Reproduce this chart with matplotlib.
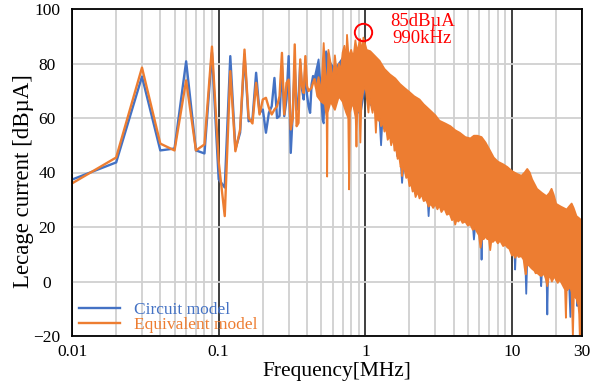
import matplotlib
matplotlib.use("Agg")
import matplotlib.pyplot as plt
from matplotlib.ticker import FixedLocator, NullFormatter

plt.rcParams['font.family'] = ['Liberation Serif', 'DejaVu Serif']

BLUE = '#4472C4'
ORANGE = '#ED7D31'

# ---- low-frequency part (individual 10 kHz samples) [MHz], [dBuA]
line_f = [0.01, 0.02, 0.03, 0.04, 0.05, 0.06, 0.07, 0.08, 0.09, 0.10,
          0.11, 0.12, 0.13, 0.14, 0.15, 0.16, 0.17, 0.18, 0.19, 0.20,
          0.21, 0.22, 0.23, 0.24, 0.25, 0.26, 0.27, 0.28, 0.29, 0.30,
          0.31, 0.32, 0.33, 0.34, 0.35, 0.36, 0.37, 0.38, 0.39, 0.40,
          0.41, 0.42, 0.43, 0.44, 0.45]
circuit_line = [37.4, 43.7, 75.2, 48.1, 48.8, 80.8, 48.1, 47.0, 84.0, 37.5,
                34.5, 82.7, 48.5, 54.6, 83.3, 58.8, 59.5, 76.6, 61.9, 63.1,
                54.6, 61.9, 64.3, 74.7, 60.0, 60.7, 79.0, 60.7, 66.8, 82.7,
                47.2, 62.0, 79.0, 63.0, 66.8, 80.2, 70.5, 66.8, 79.0, 68.6,
                64.3, 61.9, 72.3, 75.4, 74.7]
equiv_line = [36.0, 45.5, 78.5, 50.6, 48.1, 73.8, 48.1, 50.3, 86.2, 44.0,
              24.0, 77.2, 47.8, 55.8, 85.1, 60.1, 58.0, 72.9, 61.3, 66.8,
              67.4, 63.7, 61.3, 63.1, 64.3, 68.0, 83.9, 61.3, 72.9, 74.1,
              55.8, 60.0, 87.0, 57.0, 58.2, 81.5, 71.7, 69.2, 82.7, 71.7,
              69.9, 70.5, 71.1, 72.9, 74.1]

# ---- dense part: upper envelope and lower edge of the spectrum band
equiv_top_f = [0.45, 0.46, 0.48, 0.50, 0.52, 0.53, 0.55, 0.56, 0.58, 0.60,
               0.62, 0.64, 0.66, 0.68, 0.70, 0.72, 0.74, 0.75, 0.77, 0.80,
               0.83, 0.855, 0.88, 0.92, 0.95, 0.97, 1.02, 1.08, 1.15, 1.25,
               1.35, 1.47, 1.6, 1.72, 1.85, 2.0, 2.15, 2.34, 2.5, 2.74,
               3.0, 3.2, 3.5, 3.8, 4.1, 4.4, 4.8, 5.2, 5.5, 5.8,
               6.2, 6.6, 7.0, 7.5, 8.0, 8.7, 9.3, 10.0, 10.8, 11.6,
               12.2, 12.7, 13.2, 13.7, 14.8, 16.0, 17.2, 18.0, 18.6, 19.2,
               20.0, 21.5, 23.6, 24.5, 25.5, 26.3, 27.5, 29.0, 30.0]
equiv_top_v = [74.1, 71.0, 75.0, 69.0, 87.5, 79.0, 70.0, 85.0, 80.0, 73.0,
               83.0, 76.0, 80.0, 77.0, 84.0, 86.5, 80.0, 90.5, 82.0, 85.0,
               82.0, 88.5, 84.0, 89.0, 84.0, 89.5, 85.0, 84.5, 83.0, 81.0,
               78.0, 76.0, 74.5, 72.5, 71.0, 69.5, 68.0, 66.8, 65.0, 63.0,
               61.0, 59.0, 58.0, 57.0, 55.5, 54.6, 53.0, 52.5, 53.5, 53.5,
               53.0, 51.0, 48.5, 45.5, 44.0, 43.0, 42.0, 40.5, 39.5, 38.8,
               40.0, 41.3, 40.0, 37.5, 34.0, 32.5, 31.3, 32.5, 34.0, 32.0,
               28.5, 27.5, 26.4, 27.5, 28.6, 27.0, 24.0, 23.0, 22.0]
equiv_bot_f = [0.45, 0.47, 0.50, 0.53, 0.545, 0.549, 0.553, 0.58, 0.62, 0.66,
               0.70, 0.74, 0.765, 0.775, 0.785, 0.82, 0.86, 0.87, 0.88, 0.91,
               0.925, 0.94, 0.97, 1.0, 1.03, 1.05, 1.07, 1.10, 1.12, 1.14,
               1.16, 1.18, 1.20, 1.23, 1.25, 1.28, 1.31, 1.35, 1.38, 1.42,
               1.47, 1.50, 1.55, 1.58, 1.62, 1.66, 1.70, 1.74, 1.76, 1.78,
               1.80, 1.85, 1.90, 1.95, 2.0, 2.05, 2.1, 2.15, 2.2, 2.28,
               2.34, 2.42, 2.5, 2.6, 2.7, 2.8, 2.9, 3.0, 3.1, 3.2,
               3.3, 3.45, 3.6, 3.75, 3.9, 4.0, 4.1, 4.2, 4.3, 4.45,
               4.6, 4.8, 5.0, 5.2, 5.4, 5.6, 5.8, 5.95, 6.1, 6.25,
               6.4, 6.6, 6.8, 6.95, 7.1, 7.25, 7.4, 7.7, 8.0, 8.3,
               8.7, 9.0, 9.3, 9.6, 10.0, 10.3, 10.5, 10.8, 11.1, 11.6,
               12.0, 12.2, 12.4, 12.6, 13.0, 13.5, 13.8, 14.2, 14.5, 14.8,
               15.3, 15.8, 16.2, 16.5, 17.0, 17.4, 17.8, 18.2, 18.7, 19.1,
               19.5, 20.0, 20.5, 21.0, 21.5, 22.0, 22.5, 23.0, 23.3, 23.6,
               24.0, 24.5, 25.0, 25.5, 26.0, 26.4, 26.8, 27.2, 27.5, 28.0,
               28.3, 28.7, 29.0, 29.3, 29.6, 30.0]
equiv_bot_v = [74.1, 68.0, 66.0, 65.0, 60.0, 38.5, 62.0, 66.0, 63.0, 68.0,
               66.0, 62.0, 60.0, 33.8, 62.0, 66.0, 60.0, 49.5, 62.0, 64.0,
               51.0, 66.0, 70.0, 72.0, 66.0, 62.0, 68.0, 64.0, 61.9, 65.0,
               63.0, 54.6, 62.0, 59.0, 61.0, 57.0, 59.0, 55.0, 57.0, 52.0,
               53.5, 50.0, 53.0, 48.0, 49.0, 45.0, 46.0, 42.0, 43.0, 38.7,
               42.0, 41.0, 38.0, 39.0, 35.0, 36.0, 33.0, 34.0, 31.0, 33.0,
               30.5, 32.0, 29.5, 30.0, 27.5, 28.5, 27.0, 28.5, 26.5, 28.0,
               25.5, 27.0, 24.5, 25.0, 22.5, 23.5, 20.9, 23.0, 22.0, 23.0,
               21.5, 22.0, 20.5, 21.0, 19.0, 19.5, 18.0, 17.0, 12.4, 16.0,
               15.5, 16.5, 15.5, 16.0, 11.5, 15.5, 14.5, 15.5, 14.0, 15.0,
               13.0, 13.5, 12.5, 12.0, 9.5, 10.0, 8.7, 10.0, 9.0, 9.3,
               8.0, 5.0, 2.6, 6.0, 6.0, 5.0, 4.5, 4.0, 3.0, 3.2,
               2.5, 2.0, 2.5, 3.0, 1.0, -1.7, 1.5, 2.0, 0.0, 1.0,
               2.0, 0.5, -0.5, 0.5, 0.0, -1.0, -2.0, -3.0, -13.3, -3.0,
               -3.0, -2.5, -2.0, -4.0, -20.5, -5.0, -5.0, -6.0, -6.0, -8.0,
               -8.0, -12.0, -20.5, -8.0, -7.0, -20.0]

circuit_top_f = [0.45, 0.48, 0.50, 0.54, 0.58, 0.62, 0.66, 0.70, 0.75, 0.80,
                 0.85, 0.90, 0.95, 1.0, 1.1, 1.25, 1.47, 1.72, 2.0, 2.34,
                 2.74, 3.2, 3.8, 4.4, 5.2, 6.0, 7.0, 8.0, 10.0, 12.7,
                 14.8, 17.2, 20.0, 23.6, 25.5, 27.5, 30.0]
circuit_top_v = [74.7, 81.5, 70.0, 84.5, 80.0, 78.0, 80.0, 82.0, 84.0, 82.0,
                 84.0, 85.0, 83.0, 84.0, 81.5, 78.5, 73.5, 70.0, 67.0, 64.0,
                 60.5, 56.5, 54.5, 52.0, 50.0, 50.5, 46.0, 41.5, 38.0, 38.5,
                 31.5, 29.0, 26.0, 24.0, 26.0, 21.5, 19.5]
circuit_bot_f = [0.45, 0.47, 0.50, 0.51, 0.52, 0.53, 0.56, 0.60, 0.66, 0.72,
                 0.80, 0.86, 0.93, 1.0, 1.05, 1.12, 1.25, 1.28, 1.31, 1.40,
                 1.47, 1.55, 1.62, 1.65, 1.68, 1.74, 1.78, 1.82, 1.95, 2.1,
                 2.3, 2.5, 2.66, 2.70, 2.74, 2.85, 3.1, 3.4, 3.6, 3.9,
                 4.3, 4.7, 5.1, 5.4, 5.5, 5.6, 6.0, 6.15, 6.2, 6.25,
                 6.4, 6.9, 7.4, 8.0, 8.7, 9.3, 10.0, 10.4, 10.5, 10.6,
                 11.0, 11.6, 12.3, 12.5, 12.7, 13.5, 14.2, 14.8, 15.6, 15.8,
                 16.0, 16.5, 17.2, 17.4, 17.6, 18.7, 19.5, 20.5, 21.5, 22.5,
                 24.5, 25.0, 25.5, 26.5, 27.5, 27.8, 28.1, 29.0, 30.0]
circuit_bot_v = [74.7, 70.0, 66.8, 59.4, 58.0, 70.0, 66.0, 68.0, 68.0, 66.0,
                 67.0, 62.0, 62.0, 72.0, 66.0, 64.0, 60.0, 50.0, 60.0, 57.0,
                 54.0, 55.0, 50.0, 46.0, 49.0, 45.0, 36.2, 43.0, 40.0, 36.0,
                 34.0, 32.0, 30.0, 24.0, 30.0, 29.0, 30.0, 28.0, 27.0, 24.5,
                 24.5, 24.0, 22.0, 21.0, 15.4, 20.0, 19.0, 17.0, 8.0, 17.0,
                 18.0, 18.0, 16.0, 16.0, 15.0, 15.0, 11.0, 10.0, 4.4, 10.0,
                 11.0, 10.5, 9.0, -4.5, 8.0, 6.5, 5.5, 4.5, 3.5, -1.7,
                 3.5, 4.0, 2.0, -12.1, 2.0, 1.5, 3.0, 1.0, 1.0, -1.0,
                 -1.0, -13.0, -1.0, -3.0, -4.0, -9.0, -5.0, -6.0, -15.0]

peak_f = [0.97]
peak_v = [91.7]

x_ticks = [0.01, 0.1, 1, 10, 30]
x_tick_labels = ['0.01', '0.1', '1', '10', '30']
y_ticks = [-20, 0, 20, 40, 60, 80, 100]

fig = plt.figure(figsize=(5.99, 3.87), dpi=100)
ax = fig.add_axes([72/599, 1-336/387, 510/599, 327/387])

ax.set_xscale('log')
ax.set_xlim(0.01, 30)
ax.set_ylim(-20, 100)

LW = 1.7
# circuit model (drawn first, underneath)
ax.plot(line_f, circuit_line, color=BLUE, lw=LW, zorder=2, label='Circuit model')
ax.fill(circuit_top_f + circuit_bot_f[::-1], circuit_top_v + circuit_bot_v[::-1],
        color=BLUE, lw=0, zorder=2)
ax.plot(circuit_bot_f, circuit_bot_v, color=BLUE, lw=1.3, zorder=2)
ax.plot(circuit_top_f, circuit_top_v, color=BLUE, lw=1.3, zorder=2)
# equivalent model on top
ax.plot(line_f, equiv_line, color=ORANGE, lw=LW, zorder=3, label='Equivalent model')
ax.fill(equiv_top_f + equiv_bot_f[::-1], equiv_top_v + equiv_bot_v[::-1],
        color=ORANGE, lw=0, zorder=3)
ax.plot(equiv_bot_f, equiv_bot_v, color=ORANGE, lw=1.3, zorder=3)
ax.plot(equiv_top_f, equiv_top_v, color=ORANGE, lw=1.3, zorder=3)

# peak marker and annotation
ax.plot(peak_f, peak_v, 'o', ms=12.5, mfc='none', mec='#FF0000', mew=1.4, zorder=5)
ax.text(2.45, 92.3, '85dBµA\n990kHz', color='#FF0000', fontsize=13.5,
        ha='center', va='center', linespacing=1.05, zorder=6)

# ticks and grid
ax.xaxis.set_major_locator(FixedLocator(x_ticks))
ax.set_xticklabels(x_tick_labels)
minor = [m * d for d in (0.01, 0.1, 1, 10) for m in range(2, 10) if m * d < 30]
ax.xaxis.set_minor_locator(FixedLocator(minor))
ax.xaxis.set_minor_formatter(NullFormatter())
ax.set_yticks(y_ticks)
ax.tick_params(axis='both', which='both', length=0, labelsize=12.5)
ax.tick_params(axis='x', pad=6)
ax.tick_params(axis='y', pad=18)
for lab in ax.get_yticklabels():
    lab.set_horizontalalignment('center')

ax.set_axisbelow(True)
ax.xaxis.grid(True, which='minor', color='#D0D0D0', lw=1.3)
ax.xaxis.grid(True, which='major', color='#303030', lw=1.3)
ax.yaxis.grid(True, which='major', color='#D0D0D0', lw=1.3)
for s in ax.spines.values():
    s.set_color('black')
    s.set_linewidth(1.3)
    s.set_zorder(7)

ax.set_xlabel('Frequency[MHz]', fontsize=15.5)
ax.set_ylabel('Lecage current [dBµA]', fontsize=16.5)
ax.xaxis.set_label_coords(0.52, -0.11)
ax.xaxis.label.set_va('center')
ax.yaxis.set_label_coords(-0.096, 0.4725)
ax.yaxis.label.set_va('center')

leg = ax.legend(loc='lower left', bbox_to_anchor=(0.0, -0.012), frameon=False,
                fontsize=12.5, handlelength=2.35, handletextpad=0.8,
                labelspacing=-0.05, borderaxespad=0.2, borderpad=0.2)
for txt, col in zip(leg.get_texts(), [BLUE, ORANGE]):
    txt.set_color(col)
leg.set_zorder(8)

fig.savefig('out.png', dpi=100)
